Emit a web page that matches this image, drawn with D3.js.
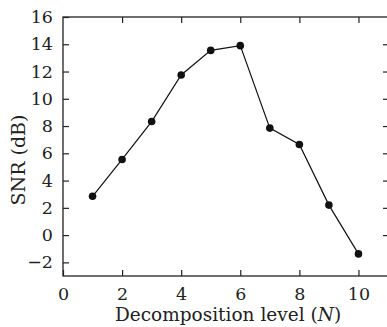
<!DOCTYPE html>
<html>
<head>
<meta charset="utf-8">
<script src="https://cdn.jsdelivr.net/npm/d3@7"></script>
<style>
  body { margin: 0; background: #fff; }
  text { font-family: "DejaVu Serif", "Liberation Serif", serif; fill: #222; }
</style>
</head>
<body>
<script>
// decomposition level vs SNR
var levels = [1, 2, 3, 4, 5, 6, 7, 8, 9, 10];
var snr = [2.85, 5.55, 8.33, 11.75, 13.55, 13.9, 7.85, 6.65, 2.2, -1.38];
var xTicks = [0, 2, 4, 6, 8, 10];
var yTicks = [-2, 0, 2, 4, 6, 8, 10, 12, 14, 16];

var width = 387, height = 327;
var mLeft = 63, mRight = 388, mTop = 17, mBottom = 276;

var svg = d3.select("body").append("svg")
  .attr("width", width)
  .attr("height", height);

var x = d3.scaleLinear().domain([0, 11]).range([mLeft, mRight]);
var y = d3.scaleLinear().domain([-3, 16]).range([mBottom, mTop]);

// frame
svg.append("rect")
  .attr("x", mLeft).attr("y", mTop)
  .attr("width", mRight - mLeft).attr("height", mBottom - mTop)
  .style("fill", "none").style("stroke", "#222").style("stroke-width", 1.3);

function fmt(d) { return d < 0 ? "\u2212" + Math.abs(d) : "" + d; }

// axes, ticks pointing in
var xb = svg.append("g").attr("transform", "translate(0," + mBottom + ")")
  .call(d3.axisBottom(x).tickValues(xTicks).tickSize(-6).tickPadding(12).tickFormat(fmt));
var xt = svg.append("g").attr("transform", "translate(0," + mTop + ")")
  .call(d3.axisTop(x).tickValues(xTicks.slice(1)).tickSize(-6).tickFormat(""));
var yl = svg.append("g").attr("transform", "translate(" + mLeft + ",0)")
  .call(d3.axisLeft(y).tickValues(yTicks).tickSize(-6).tickPadding(10).tickFormat(fmt));
var yr = svg.append("g").attr("transform", "translate(" + (mRight - 1) + ",0)")
  .call(d3.axisRight(y).tickValues(yTicks.slice(1, -1)).tickSize(-4).tickFormat(""));

[xb, xt, yl, yr].forEach(function(g) {
  g.select(".domain").remove();
  g.selectAll(".tick line").style("stroke", "#222").style("stroke-width", 1.2);
  g.selectAll("text").style("font-size", "17.5px")
    .style("font-family", "'DejaVu Serif', serif").style("fill", "#222");
});

// line and dots
var line = d3.line()
  .x(function(d, i) { return x(levels[i]); })
  .y(function(d) { return y(d); });

svg.append("path")
  .datum(snr)
  .attr("d", line)
  .style("fill", "none").style("stroke", "#111").style("stroke-width", 1.2);

svg.selectAll("circle")
  .data(snr)
  .enter()
  .append("circle")
  .attr("cx", function(d, i) { return x(levels[i]); })
  .attr("cy", function(d) { return y(d); })
  .attr("r", 3.8)
  .style("fill", "#111");

// axis titles
var xl = svg.append("text")
  .attr("x", 228).attr("y", 321)
  .attr("text-anchor", "middle")
  .style("font-size", "18.5px");
xl.append("tspan").text("Decomposition level (");
xl.append("tspan").style("font-style", "italic").text("N");
xl.append("tspan").text(")");

svg.append("text")
  .attr("transform", "translate(25,160) rotate(-90)")
  .attr("text-anchor", "middle")
  .style("font-size", "19px")
  .text("SNR (dB)");
</script>
</body>
</html>
